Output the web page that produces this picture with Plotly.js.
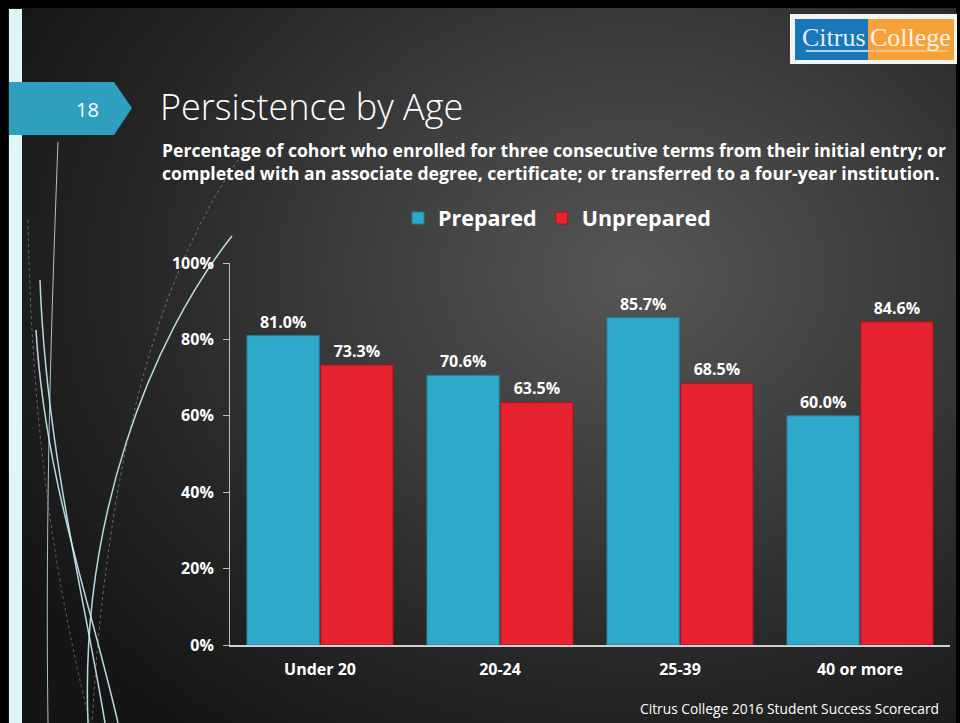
<!DOCTYPE html>
<html>
<head>
<meta charset="utf-8">
<script src="https://cdn.plot.ly/plotly-3.0.1.min.js"></script>
<style>
  html, body { margin: 0; padding: 0; background: #000; }
  #chart {
    width: 960px; height: 723px;
    background: radial-gradient(ellipse 75% 80% at 66% 38%, #565656 0%, #3f3f3f 35%, #262626 70%, #151515 100%);
  }
</style>
</head>
<body>
<div id="chart"></div>
<script>
const categories = ["Under 20", "20-24", "25-39", "40 or more"];
const prepared = [81.0, 70.6, 85.7, 60.0];
const unprepared = [73.3, 63.5, 68.5, 84.6];
const seriesNames = ["Prepared", "Unprepared"];
const yTickVals = [0, 20, 40, 60, 80, 100];
const yTickText = ["0%", "20%", "40%", "60%", "80%", "100%"];

const W = 960, H = 723;
const L = 230, R = 950, T = 263, B = 645;
const px = x => (x - L) / (R - L);
const py = y => (B - y) / (B - T);

const FONT = "'Open Sans', Lato, sans-serif";

const traces = [
  {
    type: "bar", name: seriesNames[0], x: categories, y: prepared,
    marker: { color: "#2fa9c9", line: { color: "#1f7f99", width: 1 } },
    texttemplate: "%{y:.1f}%", textposition: "outside",
    textfont: { family: FONT, size: 16, color: "#ffffff", weight: "bold" },
    cliponaxis: false, hoverinfo: "none"
  },
  {
    type: "bar", name: seriesNames[1], x: categories, y: unprepared,
    marker: { color: "#e5222e", line: { color: "#a8141c", width: 1 } },
    texttemplate: "%{y:.1f}%", textposition: "outside",
    textfont: { family: FONT, size: 16, color: "#ffffff", weight: "bold" },
    cliponaxis: false, hoverinfo: "none"
  }
];

const curveStyle = { color: "rgba(200,240,245,0.9)", width: 1.5 };
const shapes = [
  { type: "rect", xref: "paper", yref: "paper", x0: px(0), x1: px(8), y0: py(0), y1: py(723), fillcolor: "#000", line: { width: 0 }, layer: "below" },
  { type: "rect", xref: "paper", yref: "paper", x0: px(0), x1: px(960), y0: py(0), y1: py(8), fillcolor: "#000", line: { width: 0 }, layer: "below" },
  { type: "rect", xref: "paper", yref: "paper", x0: px(956), x1: px(960), y0: py(0), y1: py(723), fillcolor: "#000", line: { width: 0 }, layer: "below" },
  { type: "rect", xref: "paper", yref: "paper", x0: px(9), x1: px(22), y0: py(9), y1: py(723), fillcolor: "#dff5f8", line: { width: 0 }, layer: "below" },
  { type: "path", xref: "paper", yref: "paper",
    path: `M ${px(9)},${py(82)} L ${px(114)},${py(82)} L ${px(132)},${py(108)} L ${px(114)},${py(135)} L ${px(9)},${py(135)} Z`,
    fillcolor: "#2e9fbd", line: { width: 0 }, layer: "below" },
  { type: "path", xref: "paper", yref: "paper",
    path: `M ${px(58)},${py(142)} C ${px(52)},${py(300)} ${px(45)},${py(500)} ${px(48)},${py(723)}`,
    line: { color: "rgba(200,240,245,0.8)", width: 1 }, layer: "below" },
  { type: "path", xref: "paper", yref: "paper",
    path: `M ${px(232)},${py(236)} C ${px(150)},${py(340)} ${px(80)},${py(520)} ${px(88)},${py(723)}`,
    line: curveStyle, layer: "below" },
  { type: "path", xref: "paper", yref: "paper",
    path: `M ${px(36)},${py(330)} C ${px(45)},${py(480)} ${px(90)},${py(600)} ${px(118)},${py(723)}`,
    line: curveStyle, layer: "below" },
  { type: "path", xref: "paper", yref: "paper",
    path: `M ${px(40)},${py(280)} C ${px(46)},${py(450)} ${px(85)},${py(600)} ${px(105)},${py(723)}`,
    line: curveStyle, layer: "below" },
  { type: "path", xref: "paper", yref: "paper",
    path: `M ${px(238)},${py(160)} C ${px(170)},${py(260)} ${px(110)},${py(420)} ${px(92)},${py(723)}`,
    line: { color: "rgba(200,200,200,0.45)", width: 1, dash: "dot" }, layer: "below" },
  { type: "path", xref: "paper", yref: "paper",
    path: `M ${px(28)},${py(220)} C ${px(32)},${py(450)} ${px(60)},${py(600)} ${px(90)},${py(723)}`,
    line: { color: "rgba(200,200,200,0.4)", width: 1, dash: "dot" }, layer: "below" },
  // logo
  { type: "rect", xref: "paper", yref: "paper", x0: px(790), x1: px(957), y0: py(14), y1: py(64), fillcolor: "#f4f4f4", line: { width: 0 } },
  { type: "rect", xref: "paper", yref: "paper", x0: px(795), x1: px(868), y0: py(19), y1: py(60), fillcolor: "#1777b8", line: { width: 0 } },
  { type: "rect", xref: "paper", yref: "paper", x0: px(868), x1: px(954), y0: py(19), y1: py(60), fillcolor: "#f7a13b", line: { width: 0 } },
  { type: "line", xref: "paper", yref: "paper", x0: px(806), x1: px(868), y0: py(51), y1: py(51), line: { color: "#e8eef6", width: 1.5 } },
  { type: "line", xref: "paper", yref: "paper", x0: px(868), x1: px(948), y0: py(51), y1: py(51), line: { color: "rgba(255,240,220,0.7)", width: 1 } }
];

const annotations = [
  { text: "18", xref: "paper", yref: "paper", x: px(87), y: py(110), showarrow: false,
    font: { family: FONT, size: 20, color: "#ffffff" }, xanchor: "center", yanchor: "middle" },
  { text: "Persistence by Age", xref: "paper", yref: "paper", x: px(158), y: py(106), showarrow: false,
    font: { family: FONT, size: 36, color: "#ffffff", weight: 300 }, xanchor: "left", yanchor: "middle" },
  { text: "Percentage of cohort who enrolled for three consecutive terms from their initial entry; or<br>completed with an associate degree, certificate; or transferred to a four-year institution.",
    xref: "paper", yref: "paper", x: px(160), y: py(161), showarrow: false, align: "left",
    font: { family: FONT, size: 17.6, color: "#ffffff", weight: "bold" }, xanchor: "left", yanchor: "middle" },
  { text: "Citrus College 2016 Student Success Scorecard", xref: "paper", yref: "paper", x: px(941), y: py(708), showarrow: false,
    font: { family: FONT, size: 13.8, color: "#ffffff" }, xanchor: "right", yanchor: "middle" },
  { text: "Citrus", xref: "paper", yref: "paper", x: px(834), y: py(38), showarrow: false,
    font: { family: "'Liberation Serif', 'DejaVu Serif', serif", size: 26, color: "#e6eef8" }, xanchor: "center", yanchor: "middle" },
  { text: "College", xref: "paper", yref: "paper", x: px(910), y: py(38), showarrow: false,
    font: { family: "'Liberation Serif', 'DejaVu Serif', serif", size: 26, color: "#fdf3e6" }, xanchor: "center", yanchor: "middle" }
];

const layout = {
  width: W, height: H,
  margin: { l: L, r: W - R, t: T, b: H - B, pad: 0 },
  paper_bgcolor: "rgba(0,0,0,0)",
  plot_bgcolor: "rgba(0,0,0,0)",
  barmode: "group",
  bargap: 0.18,
  bargroupgap: 0.02,
  font: { family: FONT, color: "#ffffff" },
  showlegend: true,
  legend: {
    orientation: "h", x: px(557), xanchor: "center", y: py(218), yanchor: "middle",
    font: { family: FONT, size: 21.5, color: "#ffffff", weight: "bold" },
    bgcolor: "rgba(0,0,0,0)", itemwidth: 30, traceorder: "normal"
  },
  xaxis: {
    type: "category", showline: true, linecolor: "#d0d0d0", linewidth: 1.5,
    ticks: "", showgrid: false, zeroline: false,
    tickfont: { family: FONT, size: 16, color: "#ffffff", weight: "bold" },
    ticklabelstandoff: 9
  },
  yaxis: {
    range: [0, 100], tickvals: yTickVals, ticktext: yTickText,
    showline: true, linecolor: "#bdbdbd", linewidth: 1,
    ticks: "outside", ticklen: 6, tickcolor: "#bdbdbd",
    showgrid: false, zeroline: false,
    tickfont: { family: FONT, size: 16, color: "#ffffff", weight: "bold" },
    ticklabelstandoff: 6
  },
  shapes: shapes,
  annotations: annotations
};

Plotly.newPlot("chart", traces, layout, { displayModeBar: false, staticPlot: true });
</script>
</body>
</html>
